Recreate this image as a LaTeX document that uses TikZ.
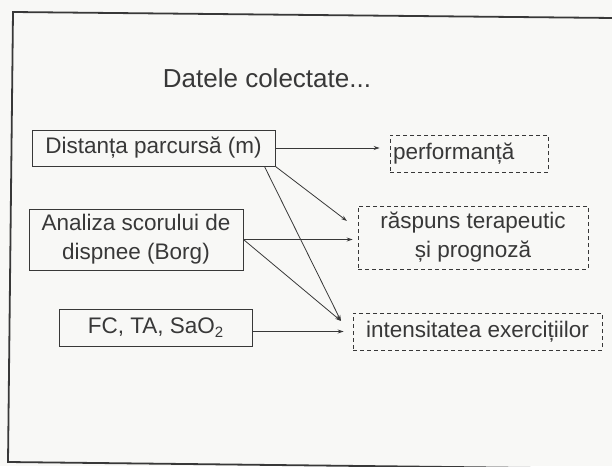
\documentclass[tikz,border=0pt]{standalone}
\usepackage{fontspec}
\setmainfont{Liberation Sans}
\usetikzlibrary{arrows.meta,calc}
\definecolor{ink}{HTML}{383838}
\definecolor{paper}{HTML}{F8F8F6}
\newcommand{\lowtwo}{{\fontsize{15}{15}\selectfont\raisebox{-4pt}{2}}}
\tikzset{
  x=1pt,y=-1pt,
  solidbox/.style={draw=ink,line width=0.9pt,rectangle,inner sep=0pt,text=ink,font=\fontsize{22.5}{29}\selectfont},
  dashbox/.style={draw=ink,line width=0.9pt,dash pattern=on 4pt off 3pt,rectangle,inner sep=0pt,text=ink,font=\fontsize{22.5}{29}\selectfont},
  conn/.style={draw=ink,line width=0.8pt,-{Stealth[length=6pt,width=4pt]}},
}
\begin{document}
\begin{tikzpicture}
\fill[paper] (0,0) rectangle (612,466);
\useasboundingbox (0,0) rectangle (612,466);
% frame
\draw[ink,line width=1.8pt] (614,18) -- (13,12) -- (8,462) -- (540,468);
% title
\node[text=ink,font=\fontsize{26}{30}\selectfont] (title) at (267,78) {Datele colectate...};
% source boxes
\node[solidbox,minimum width=243pt,minimum height=36pt] (D) at (153.5,148) {Distanța parcursă (m)};
\node[solidbox,minimum width=214pt,minimum height=61pt,align=center] (A) at (136,239.5) {Analiza scorului de\\dispnee (Borg)};
\node[solidbox,minimum width=193pt,minimum height=37pt] (F) at (155.5,327.5) {FC, TA, SaO\lowtwo};
% target boxes
\node[dashbox,minimum width=158pt,minimum height=37pt,text width=152pt,align=left] (P) at (469,153.5) {performanță};
\node[dashbox,minimum width=230pt,minimum height=63pt,align=center] (R) at (473,237.5) {răspuns terapeutic\\și prognoză};
\node[dashbox,minimum width=249pt,minimum height=37pt] (I) at (477.5,331.5) {intensitatea exercițiilor};
% connector ends
\coordinate (rT) at (347,221);
\coordinate (iT) at (341,321);
\coordinate (dA) at ([xshift=-11pt]D.south east);
% connectors
\draw[conn,shorten >=10pt] (D.east) -- (D.east -| P.west);
\draw[conn] (D.south east) -- (rT);
\draw[conn] (dA) -- (iT);
\draw[conn,shorten >=5pt] (A.east) -- (A.east -| R.west);
\draw[conn] (A.east) -- (iT);
\draw[conn,shorten >=9pt] ([yshift=-4pt]F.east) -- ([yshift=-4pt]F.east -| I.west);
\end{tikzpicture}
\end{document}
